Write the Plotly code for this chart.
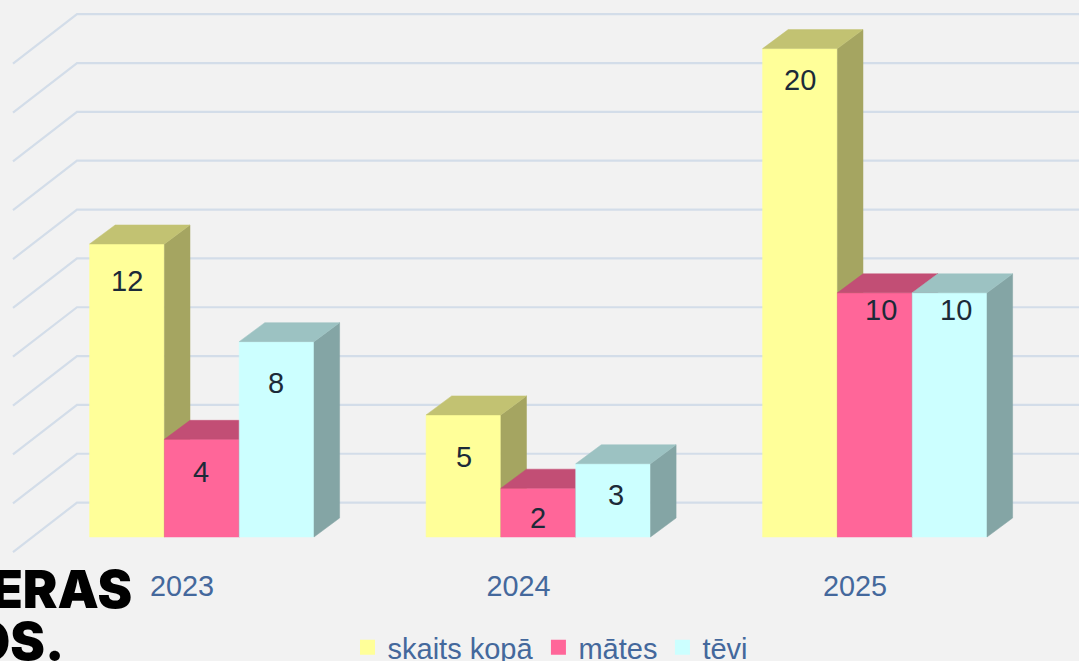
import plotly.graph_objects as go

# ---- data ----
years = ["2023", "2024", "2025"]
series_names = ["skaits kopā", "mātes", "tēvi"]
skaits_kopa = [12, 5, 20]
mates = [4, 2, 10]
tevi = [8, 3, 10]
grid_values = [0, 2, 4, 6, 8, 10, 12, 14, 16, 18, 20]

# ---- style ----
front_colors = ["#ffff99", "#ff6699", "#ccffff"]
side_colors = ["#a5a561", "#a54263", "#84a5a5"]
top_colors = ["#c2c272", "#c24e75", "#9cc2c2"]
grid_color = "#d3dde9"
tick_color = "#44689c"
label_color = "#1c2a38"
bg = "#f2f2f2"
font = "Liberation Sans"

# ---- geometry (pixels -> axis units) ----
W, H = 1079, 661
PLOT_H = 560
BASE_PX = 537.0
PX_PER_VALUE = 24.42
PITCH = 336.5
TICK0_PX = 182.0
x_u = 1 / PITCH
y_u = 1 / PX_PER_VALUE
BAR_W = 74.8 * x_u
GROUP_SHIFT = 19.8 * x_u       # group centre relative to its tick
DEPTH_X = 25.6 * x_u
DEPTH_Y = 19.0 * y_u
BACK_X0 = (77 - TICK0_PX) * x_u
BACK_Y0 = (BASE_PX - 502.6) * y_u
WALL_DX = 64 * x_u
WALL_DY = 49.5 * y_u

# label placement relative to the bar's top centre (pixels)
label_drop = [[37, 42, 31], [33, 30, 17], [41, 31, 17]]
label_dx = [[0, 0, 0], [-1, 0, 6], [-1, 3, 6]]

series_values = [skaits_kopa, mates, tevi]
fig = go.Figure()

# gridlines: side wall + back wall
gx, gy = [], []
for v in grid_values:
    yb = v + BACK_Y0
    gx += [BACK_X0 - WALL_DX, BACK_X0, (W - TICK0_PX) * x_u, None]
    gy += [yb - WALL_DY, yb, yb, None]
fig.add_trace(go.Scatter(x=gx, y=gy, mode="lines", line=dict(color=grid_color, width=2.2),
                         hoverinfo="skip", showlegend=False))


def face(xs, ys, color):
    fig.add_trace(go.Scatter(x=xs, y=ys, mode="lines", fill="toself", fillcolor=color,
                             line=dict(width=0.5, color=color), hoverinfo="skip",
                             showlegend=False))


n = len(series_values)
for i in range(len(years)):
    for s in range(n):
        v = series_values[s][i]
        x0 = i + GROUP_SHIFT + (s - n / 2) * BAR_W
        x1 = x0 + BAR_W
        face([x0, x1, x1, x0, x0], [0, 0, v, v, 0], front_colors[s])
        face([x1, x1 + DEPTH_X, x1 + DEPTH_X, x1, x1],
             [0, DEPTH_Y, v + DEPTH_Y, v, 0], side_colors[s])
        face([x0, x1, x1 + DEPTH_X, x0 + DEPTH_X, x0],
             [v, v, v + DEPTH_Y, v + DEPTH_Y, v], top_colors[s])

# legend entries
for s, name in enumerate(series_names):
    fig.add_trace(go.Scatter(x=[None], y=[None], mode="markers", name=name,
                             marker=dict(symbol="square", size=15, color=front_colors[s],
                                         line=dict(width=0)),
                             hoverinfo="skip"))

annotations = []
for s in range(n):
    for i in range(len(years)):
        v = series_values[s][i]
        xc = i + GROUP_SHIFT + (s - n / 2 + 0.5) * BAR_W
        annotations.append(dict(x=xc, y=v, xref="x", yref="y", text=str(v), showarrow=False,
                                xshift=label_dx[s][i], yshift=-label_drop[s][i],
                                xanchor="center", yanchor="middle",
                                font=dict(family=font, size=29, color=label_color)))

# logo text, cut off by the page's left edge
logo = dict(family="Inter", size=52, color="#000000", weight=900)
annotations.append(dict(x=134 / W, y=(PLOT_H - 589) / PLOT_H, xref="paper", yref="paper", text="ERAS",
                        showarrow=False, xanchor="right", yanchor="middle", font=logo))
annotations.append(dict(x=66 / W, y=(PLOT_H - 641) / PLOT_H, xref="paper", yref="paper", text="OS.",
                        showarrow=False, xanchor="right", yanchor="middle", font=logo))

fig.update_layout(
    width=W, height=H,
    margin=dict(l=0, r=0, t=0, b=H - PLOT_H, autoexpand=False),
    paper_bgcolor=bg, plot_bgcolor=bg,
    annotations=annotations,
    showlegend=True,
    legend=dict(orientation="h", x=347.5 / W, xanchor="left", y=(PLOT_H - 622) / PLOT_H, yanchor="top",
                font=dict(family=font, size=29, color=tick_color),
                bgcolor="rgba(0,0,0,0)", itemsizing="trace"),
    xaxis=dict(range=[-TICK0_PX * x_u, (W - TICK0_PX) * x_u], tickmode="array",
               tickvals=list(range(len(years))), ticktext=years, showgrid=False, zeroline=False,
               showline=False, ticks="", ticklen=0, ticklabelstandoff=6,
               tickfont=dict(family=font, size=28.8, color=tick_color), automargin=False),
    yaxis=dict(range=[(BASE_PX - PLOT_H) * y_u, BASE_PX * y_u], showgrid=False, zeroline=False,
               showline=False, showticklabels=False, ticks="", automargin=False),
)

fig.write_html("out.html", config={"displayModeBar": False},
               post_script="document.body.style.margin='0';document.body.style.overflow='hidden';")
